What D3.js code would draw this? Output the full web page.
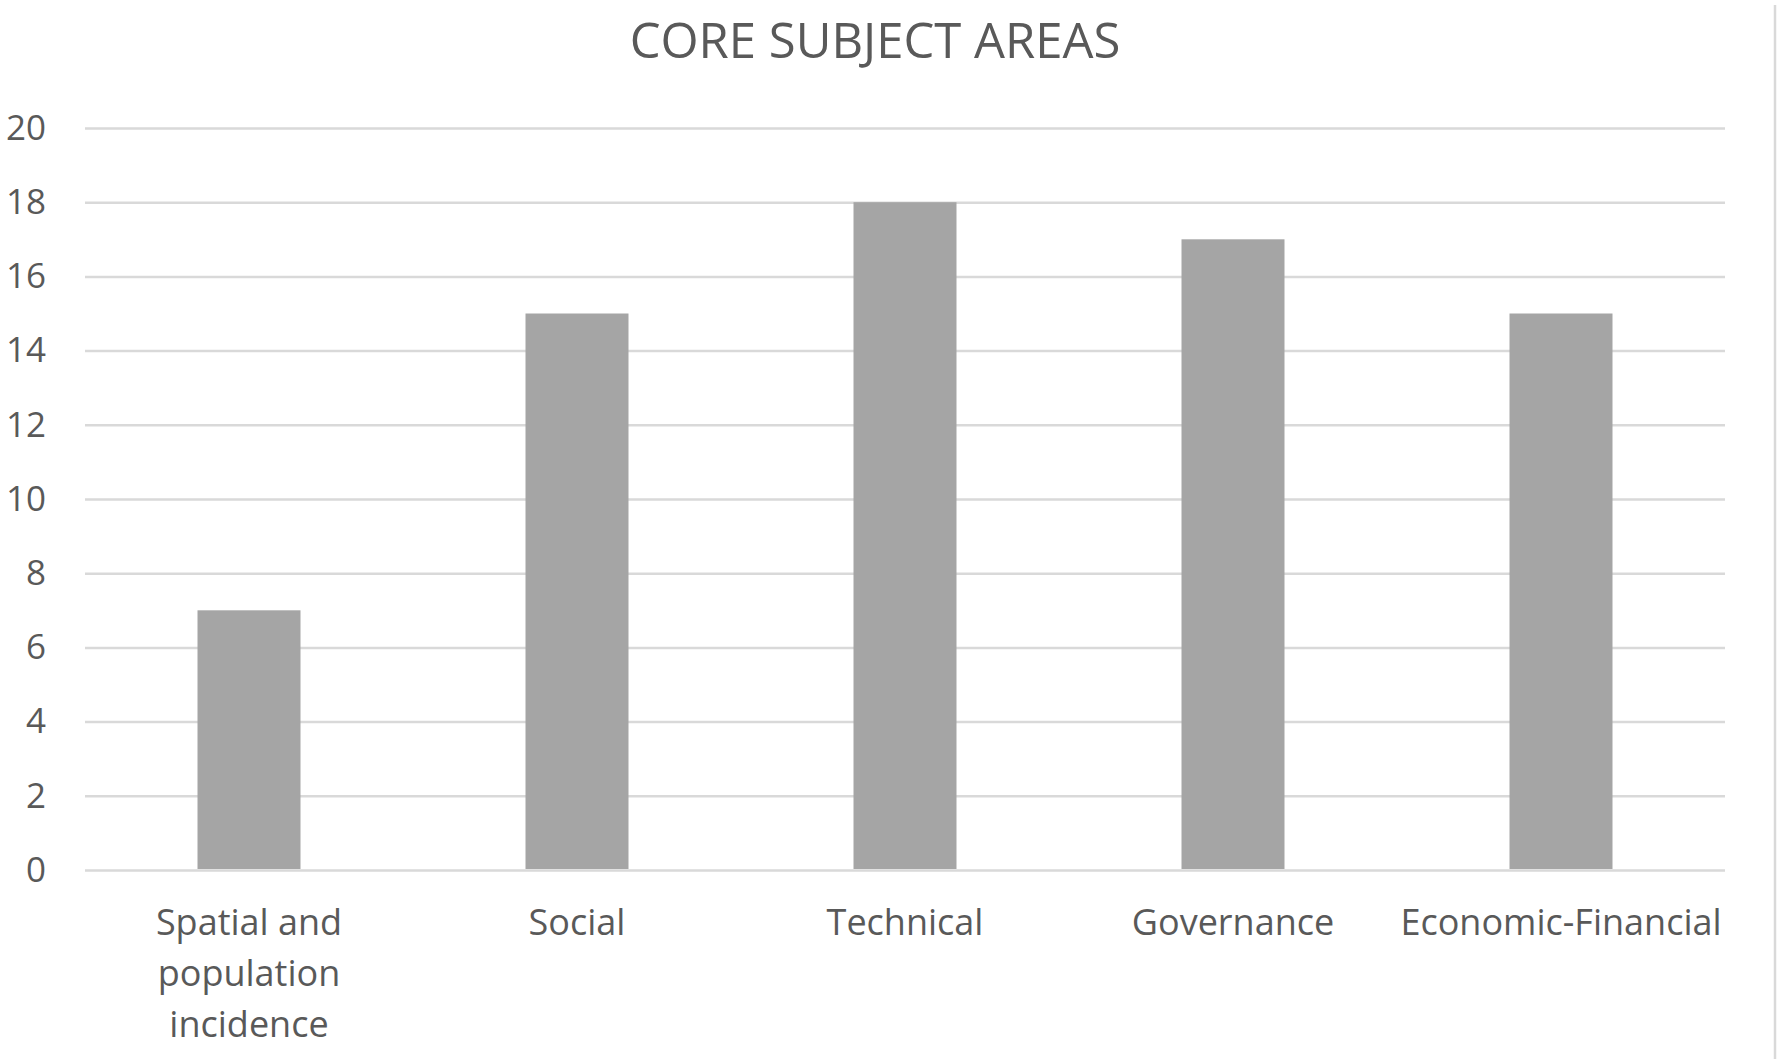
<!DOCTYPE html>
<html>
<head>
<meta charset="utf-8">
<script src="https://cdn.jsdelivr.net/npm/d3@7"></script>
<style>
  body { margin: 0; background: white; }
</style>
</head>
<body>
<script>
// DATA
const categories = [
  'Spatial and population incidence',
  'Social',
  'Technical',
  'Governance',
  'Economic-Financial'
];
const values = [7, 15, 18, 17, 15];
const yTicks = [0, 2, 4, 6, 8, 10, 12, 14, 16, 18, 20];
const chartTitle = 'CORE SUBJECT AREAS';

const svgWidth = 1783;
const svgHeight = 1059;
const plotLeft = 85;
const plotRight = 1725;
const plotTop = 128;
const plotBottom = 870;

const textColor = '#595959';
const gridColor = '#d9d9d9';
const barColor = '#a5a5a5';
const fontFamily = '"Open Sans", "Noto Sans", sans-serif';

const svg = d3
  .select('body')
  .append('svg')
  .attr('width', svgWidth)
  .attr('height', svgHeight)
  .style('background-color', 'white');

// TITLE
svg
  .append('text')
  .text(chartTitle)
  .attr('x', 875)
  .attr('y', 58)
  .attr('text-anchor', 'middle')
  .style('font-family', fontFamily)
  .style('font-size', '49px')
  .style('fill', textColor);

// SCALES
const xScale = d3
  .scaleBand()
  .domain(categories)
  .range([plotLeft, plotRight])
  .paddingInner(0.686)
  .paddingOuter(0.343);

const yScale = d3
  .scaleLinear()
  .domain([0, 20])
  .range([plotBottom, plotTop]);

// Y-AXIS + GRIDLINES
const yAxis = d3
  .axisLeft(yScale)
  .tickValues(yTicks)
  .tickSize(-(plotRight - plotLeft))
  .tickPadding(39);

const yG = svg
  .append('g')
  .attr('transform', `translate(${plotLeft}, 0)`)
  .call(yAxis);

yG.select('.domain').remove();
yG.selectAll('.tick line')
  .attr('stroke', gridColor)
  .attr('stroke-width', 2.5);
yG.selectAll('.tick text')
  .style('font-family', fontFamily)
  .style('font-size', '35px')
  .style('fill', textColor);

// BARS
svg
  .selectAll('rect.bar')
  .data(values)
  .enter()
  .append('rect')
  .attr('class', 'bar')
  .attr('x', (d, i) => xScale(categories[i]))
  .attr('y', d => yScale(d))
  .attr('width', xScale.bandwidth())
  .attr('height', d => yScale(0) - yScale(d) - 1)
  .attr('fill', barColor);

// X-AXIS
const xAxis = d3.axisBottom(xScale).tickSize(0).tickPadding(0);

const xG = svg
  .append('g')
  .attr('transform', `translate(0, ${plotBottom})`)
  .call(xAxis);

xG.select('.domain').remove();
xG.selectAll('.tick text')
  .style('font-family', fontFamily)
  .style('font-size', '36px')
  .style('fill', textColor)
  .call(wrap, xScale.step() * 0.95);

function wrap(texts, width) {
  texts.each(function() {
    const text = d3.select(this);
    const words = text.text().split(/\s+/).reverse();
    const lineHeight = 51;
    const firstY = 65;
    let line = [];
    let lineNo = 0;
    let word;
    text.text(null).attr('dy', null);
    let tspan = text
      .append('tspan')
      .attr('x', 0)
      .attr('y', firstY);
    while ((word = words.pop())) {
      line.push(word);
      tspan.text(line.join(' '));
      if (tspan.node().getComputedTextLength() > width && line.length > 1) {
        line.pop();
        tspan.text(line.join(' '));
        line = [word];
        lineNo += 1;
        tspan = text
          .append('tspan')
          .attr('x', 0)
          .attr('y', firstY + lineNo * lineHeight)
          .text(word);
      }
    }
  });
}

// CHART BORDER (right edge visible)
svg
  .append('line')
  .attr('x1', 1775)
  .attr('x2', 1775)
  .attr('y1', 5)
  .attr('y2', svgHeight)
  .attr('stroke', gridColor)
  .attr('stroke-width', 2.5);
</script>
</body>
</html>
